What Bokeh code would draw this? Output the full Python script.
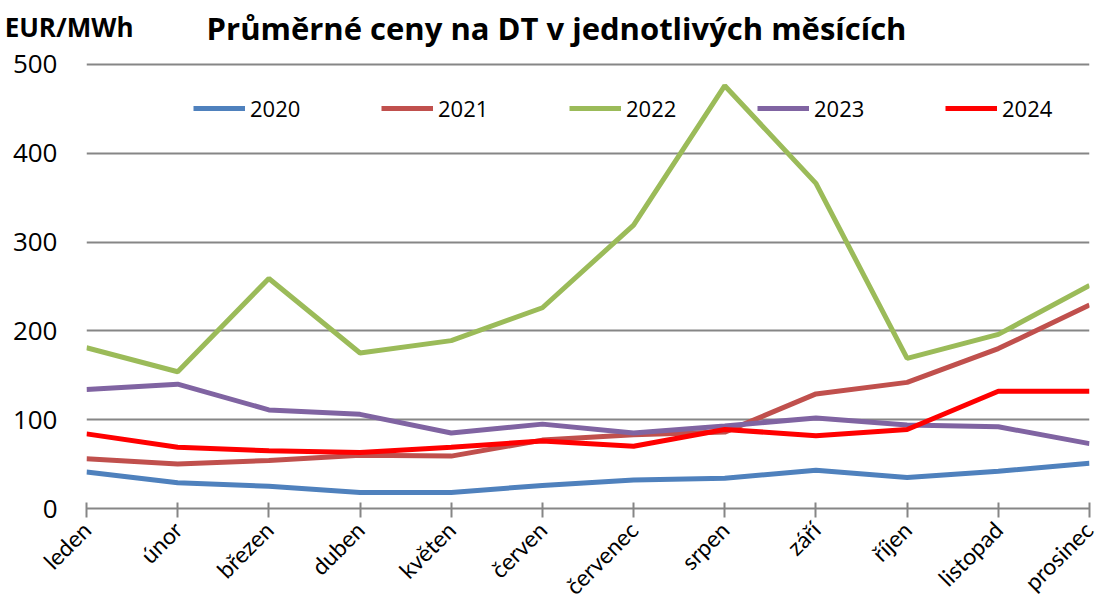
import math
from bokeh.plotting import figure
from bokeh.models import FixedTicker, Legend, LegendItem, Label, Range1d, LinearAxis
from bokeh.embed import file_html
from bokeh.resources import INLINE

months = ["leden", "únor", "březen", "duben", "květen", "červen",
          "červenec", "srpen", "září", "říjen", "listopad", "prosinec"]
y2020 = [41, 29, 25, 18, 18, 26, 32, 34, 43, 35, 42, 51]
y2021 = [56, 50, 54, 60, 59, 77, 83, 86, 129, 142, 180, 229]
y2022 = [181, 154, 259, 175, 189, 226, 319, 476, 366, 169, 196, 251]
y2023 = [134, 140, 111, 106, 85, 95, 85, 93, 102, 94, 92, 73]
y2024 = [84, 69, 65, 63, 69, 76, 70, 89, 82, 89, 132, 132]
series_names = ["2020", "2021", "2022", "2023", "2024"]
series_colors = ["#4F81BD", "#C0504D", "#9BBB59", "#8064A2", "#FF0000"]
y_ticks = [0, 100, 200, 300, 400, 500]
title_text = "Průměrné ceny na DT v jednotlivých měsících"
unit_text = "EUR/MWh"
unit_tick = 542

x = list(range(len(months)))
FONT = "Open Sans"
XFONT = "Lato"

# frame spans from the very top of the figure down to the x axis;
# 0 sits at 509 px and 500 at 64 px (0.89 px per unit)
Y_TOP = 509 / 0.89

p = figure(width=1098, height=612, output_backend="svg", toolbar_location=None,
           x_range=Range1d(0, 11), y_range=Range1d(0, Y_TOP),
           min_border_left=86, min_border_right=9, min_border_top=0,
           min_border_bottom=103)

p.outline_line_color = None
p.background_fill_color = "white"
p.border_fill_color = "white"
p.xgrid.visible = False
p.ygrid.grid_line_color = "#868686"
p.ygrid.grid_line_width = 2

p.yaxis.ticker = FixedTicker(ticks=y_ticks)
p.yaxis.axis_line_color = None
p.yaxis.major_tick_line_color = None
p.yaxis.minor_tick_line_color = None
p.yaxis.major_tick_in = 0
p.yaxis.major_tick_out = 0
p.yaxis.major_label_standoff = 29
p.yaxis.major_label_text_font = FONT
p.yaxis.major_label_text_font_size = "26px"
p.yaxis.major_label_text_color = "#000000"

# unit caption shown as the single label of an outer left axis
unit_axis = LinearAxis(ticker=FixedTicker(ticks=[unit_tick]),
                       major_label_overrides={unit_tick: unit_text})
unit_axis.axis_line_color = None
unit_axis.major_tick_line_color = None
unit_axis.minor_tick_line_color = None
unit_axis.major_tick_in = 0
unit_axis.major_tick_out = 0
unit_axis.major_label_standoff = -124
unit_axis.major_label_text_font = FONT
unit_axis.major_label_text_font_style = "bold"
unit_axis.major_label_text_font_size = "26px"
unit_axis.major_label_text_color = "#000000"
p.add_layout(unit_axis, "left")

p.xaxis.ticker = FixedTicker(ticks=x)
p.xaxis.major_label_overrides = {i: m for i, m in enumerate(months)}
p.xaxis.major_label_orientation = math.pi / 4
p.xaxis.axis_line_color = "#868686"
p.xaxis.axis_line_width = 2
p.xaxis.major_tick_line_color = "#868686"
p.xaxis.major_tick_line_width = 2
p.xaxis.major_tick_in = 6
p.xaxis.major_tick_out = 9
p.xaxis.minor_tick_line_color = None
p.xaxis.major_label_standoff = 8
p.xaxis.major_label_text_font = XFONT
p.xaxis.major_label_text_font_size = "23px"
p.xaxis.major_label_text_color = "#000000"

renderers = []
for name, ys, col in zip(series_names, [y2020, y2021, y2022, y2023, y2024], series_colors):
    r = p.line(x, ys, line_width=5, line_color=col)
    renderers.append((name, r))

legend = Legend(items=[LegendItem(label=n, renderers=[r]) for n, r in renderers],
                orientation="horizontal", location=(107, 385),
                glyph_width=52, glyph_height=20, label_standoff=5,
                label_width=131, spacing=0, padding=0, margin=0,
                border_line_color=None, background_fill_alpha=0,
                label_text_font=FONT, label_text_font_size="22px",
                label_text_color="#000000")
p.add_layout(legend)

p.add_layout(Label(x=5.155, y=(509 - 28) / 0.89, text=title_text,
                   text_font=FONT, text_font_style="bold", text_font_size="31px",
                   text_baseline="alphabetic", text_align="center",
                   text_color="#000000"))

open("out.html", "w").write(file_html(p, INLINE))
